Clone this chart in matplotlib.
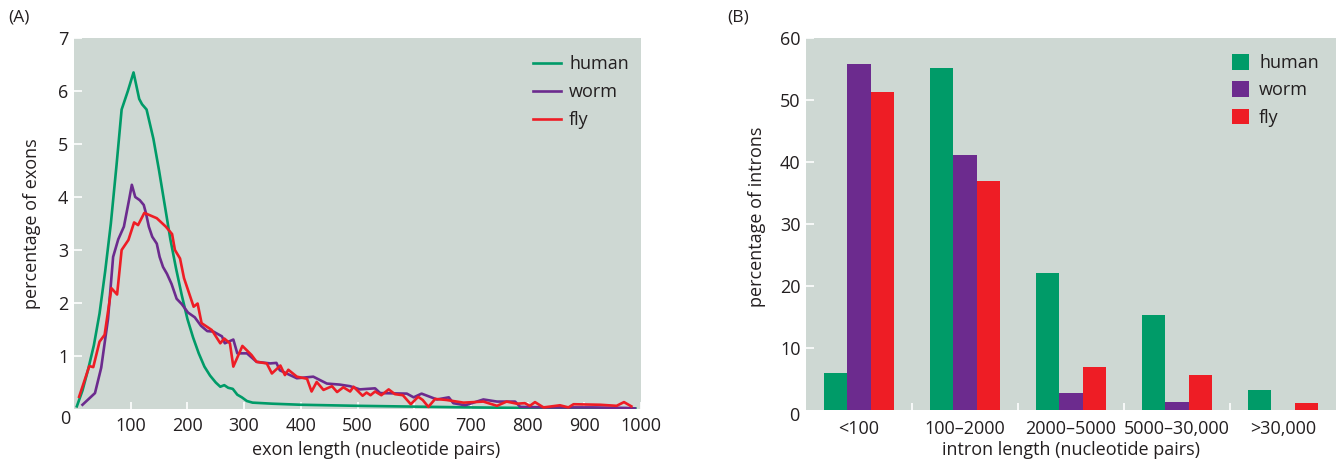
import matplotlib
matplotlib.use("Agg")
import matplotlib.pyplot as plt
import numpy as np

# ---------------- data ----------------
human_x = [5,15,25,35,45,55,65,75,84,95,105,115,120,128,140,150,160,170,180,190,200,210,220,230,240,250,258,265,272,280,288,296,305,315,350,400,500,600,700,800,900,990]
human_y = [0.05,0.35,0.75,1.2,1.8,2.6,3.5,4.6,5.65,6.0,6.35,5.85,5.75,5.65,5.1,4.5,3.85,3.2,2.65,2.15,1.7,1.35,1.05,0.8,0.63,0.5,0.42,0.45,0.40,0.38,0.27,0.22,0.15,0.12,0.1,0.08,0.06,0.045,0.03,0.02,0.015,0.01]

worm_x = [15,37,48,60,69,78,88,97,102,108,116,123,127,132,138,146,151,157,164,172,181,190,201,213,224,235,246,261,266,281,288,305,322,346,357,363,393,422,446,469,487,504,531,540,587,599,613,640,661,669,690,722,746,778,787,840,914,974,989]
worm_y = [0.08,0.3,0.78,1.7,2.87,3.2,3.44,3.94,4.23,4.0,3.94,3.85,3.69,3.44,3.25,3.12,2.87,2.68,2.55,2.36,2.08,1.98,1.82,1.73,1.57,1.47,1.46,1.37,1.24,1.31,1.05,1.05,0.89,0.86,0.87,0.73,0.58,0.61,0.48,0.46,0.43,0.37,0.39,0.30,0.29,0.22,0.29,0.18,0.22,0.11,0.07,0.18,0.14,0.14,0.04,0.03,0.03,0.02,0.01]

fly_x = [9,27,34,45,54,66,76,84,96,106,113,124,146,162,173,178,187,194,211,218,225,243,258,265,275,281,297,313,322,340,349,364,372,378,393,411,419,428,440,455,464,475,487,493,509,516,523,531,542,555,566,580,594,607,615,625,637,657,687,722,746,763,781,795,804,813,828,857,872,881,928,957,970,983]
fly_y = [0.23,0.81,0.79,1.27,1.40,2.28,2.16,3.0,3.19,3.52,3.47,3.70,3.60,3.44,3.30,3.0,2.84,2.47,1.93,1.99,1.62,1.49,1.24,1.33,1.24,0.80,1.19,1.02,0.89,0.86,0.67,0.82,0.64,0.74,0.61,0.57,0.33,0.51,0.36,0.43,0.32,0.41,0.33,0.42,0.25,0.31,0.26,0.33,0.26,0.37,0.28,0.26,0.09,0.23,0.17,0.04,0.19,0.17,0.12,0.14,0.06,0.14,0.10,0.11,0.06,0.13,0.03,0.07,0.03,0.09,0.08,0.06,0.13,0.05]

exon_xticks = [100,200,300,400,500,600,700,800,900,1000]
exon_yticks = [1,2,3,4,5,6,7]

intron_categories = ["<100", "100\u20132000", "2000\u20135000", "5000\u201330,000", ">30,000"]
intron_human = [6.0, 55.2, 22.1, 15.3, 3.2]
intron_worm = [55.8, 41.2, 2.8, 1.3, 0.0]
intron_fly = [51.3, 37.0, 6.9, 5.7, 1.1]
intron_yticks = [10,20,30,40,50,60]

species = ["human", "worm", "fly"]

# ---------------- style ----------------
GREEN = "#009B68"
PURPLE = "#6C2B8E"
RED = "#EE1D25"
BG = "#CED8D3"
TXT = "#231F20"
FS = 13

plt.rcParams['font.family'] = ['Open Sans', 'DejaVu Sans']
plt.rcParams['text.color'] = TXT
plt.rcParams['axes.labelcolor'] = TXT
plt.rcParams['xtick.color'] = TXT
plt.rcParams['ytick.color'] = TXT

W, H = 1336, 465
fig = plt.figure(figsize=(W/100, H/100), dpi=100)

def px_axes(l, r, t, b):
    return [l/W, 1 - b/H, (r-l)/W, (b-t)/H]

# ---------------- panel A ----------------
axA = fig.add_axes(px_axes(74, 641, 38, 409))
axA.set_facecolor(BG)
for s in axA.spines.values():
    s.set_visible(False)
lw = 1.9
axA.plot(human_x, human_y, color=GREEN, lw=lw, label="human", solid_joinstyle='round')
axA.plot(worm_x, worm_y, color=PURPLE, lw=lw, label="worm", solid_joinstyle='round')
axA.plot(fly_x, fly_y, color=RED, lw=lw, label="fly", solid_joinstyle='round')
axA.set_xlim(0, 1000)
axA.set_ylim(0, 7)
axA.set_xticks(exon_xticks)
axA.set_yticks(exon_yticks)
axA.tick_params(axis='both', direction='in', color='white', labelsize=FS)
axA.tick_params(axis='x', length=5, width=1.2, pad=6)
axA.tick_params(axis='y', length=6, width=1.2, pad=4)
axA.text(-0.006, -0.028, "0", transform=axA.transAxes, ha='right', va='center', fontsize=FS)
axA.set_xlabel("exon length (nucleotide pairs)", fontsize=FS)
axA.xaxis.set_label_coords(0.533, -0.085)
axA.set_ylabel("percentage of exons", fontsize=FS)
axA.yaxis.set_label_coords(-0.058, 0.5)
axA.legend(loc='upper left', bbox_to_anchor=((533-74)/567, (409-55)/371), frameon=False,
           fontsize=FS, handlelength=1.55, handletextpad=0.45, labelspacing=0.55, borderpad=0,
           borderaxespad=0)
fig.text(8/W, 1 - 17/H, "(A)", fontsize=12.5, ha='left', va='center')

# ---------------- panel B ----------------
axB = fig.add_axes(px_axes(806, 1336, 38, 410))
axB.set_facecolor(BG)
for s in axB.spines.values():
    s.set_visible(False)
x = np.arange(len(intron_categories))
bw = 0.222
axB.bar(x - bw, intron_human, width=bw, color=GREEN, label="human")
axB.bar(x, intron_worm, width=bw, color=PURPLE, label="worm")
axB.bar(x + bw, intron_fly, width=bw, color=RED, label="fly")
axB.set_xlim(-0.5, len(intron_categories) - 0.5)
axB.set_ylim(0, 60)
axB.set_xticks(x)
axB.set_xticklabels(intron_categories)
axB.set_xticks(x[:-1] + 0.5, minor=True)
axB.set_yticks(intron_yticks)
axB.tick_params(axis='both', which='both', direction='in', color='white', labelsize=FS)
axB.tick_params(axis='x', which='major', length=0, pad=7)
axB.tick_params(axis='x', which='minor', length=5, width=1.2)
axB.tick_params(axis='y', length=6, width=1.2, pad=4)
axB.text(-0.012, -0.017, "0", transform=axB.transAxes, ha='right', va='center', fontsize=FS)
axB.set_xlabel("intron length (nucleotide pairs)", fontsize=FS)
axB.xaxis.set_label_coords(0.5, -0.083)
axB.set_ylabel("percentage of introns", fontsize=FS)
axB.yaxis.set_label_coords(-0.075, 0.52)
axB.legend(loc='upper left', bbox_to_anchor=((1232-806)/530, (410-54)/372), frameon=False,
           fontsize=FS, handlelength=0.95, handleheight=0.95, handletextpad=0.55,
           labelspacing=0.52, borderpad=0, borderaxespad=0)
fig.text(727/W, 1 - 17/H, "(B)", fontsize=12.5, ha='left', va='center')

fig.savefig("out.png", dpi=100)
